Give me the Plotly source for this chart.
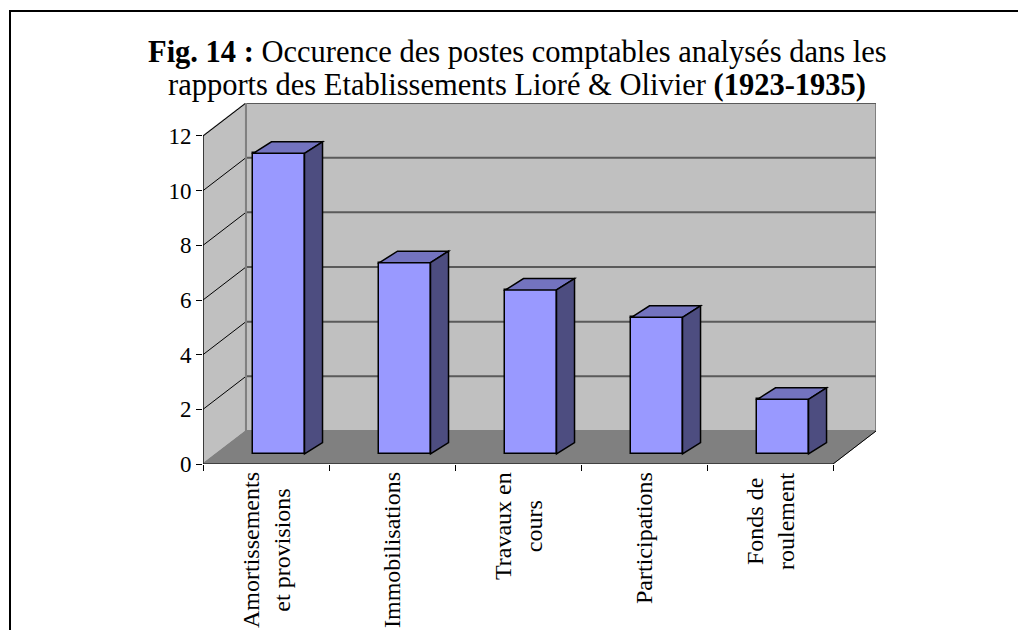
import plotly.graph_objects as go

# ---------------- data ----------------
categories = ["Amortissements<br>et provisions", "Immobilisations", "Travaux en<br>cours",
              "Participations", "Fonds de<br>roulement"]
values = [11, 7, 6, 5, 2]
y_ticks = [0, 2, 4, 6, 8, 10, 12]
title_lines = ["<b>Fig. 14 :</b> Occurence des postes comptables analysés dans les",
               "rapports des Etablissements Lioré &amp; Olivier <b>(1923-1935)</b>"]

# ---------------- geometry (pixels / axis units) ----------------
W, H = 1018, 630
L, R, T, B = 203, 876, 103, 464          # plot area in pixels
n = len(categories)
YMAX = max(y_ticks)
WDX = 0.341    # wall depth in x units
WDY = 1.207    # wall depth in y units
IDX = 0.103    # bar inset (x units)
IDY = 0.366    # bar inset (y units)
BW = 0.405     # bar width (x units)
BDX = 0.143    # bar depth x
BDY = 0.42     # bar depth y

x0r, x1r = -0.5, n - 0.5 + WDX
y0r, y1r = 0, YMAX + WDY

FONT = "Liberation Serif, Times New Roman, serif"
WALL = "#C0C0C0"
FLOOR = "#808080"
EDGE = "#808080"
GRID = "#5A5A5A"
BAR_FRONT = "#9999FF"
BAR_TOP = "#7373BF"
BAR_SIDE = "#4D4D80"

def px2paper_x(px):
    return (px - L) / (R - L)

def px2paper_y(py):
    return (B - py) / (B - T)

def poly(pts):
    return "M " + " L ".join(f"{x},{y}" for x, y in pts) + " Z"

shapes = []
xl = -0.5
xr = n - 0.5
# side wall (left)
shapes.append(dict(type="path", xref="x", yref="y", layer="below",
                   path=poly([(xl, 0), (xl, YMAX), (xl + WDX, YMAX + WDY), (xl + WDX, WDY)]),
                   fillcolor=WALL, line=dict(color=EDGE, width=1.5)))
# back wall
shapes.append(dict(type="path", xref="x", yref="y", layer="below",
                   path=poly([(xl + WDX, WDY), (xl + WDX, YMAX + WDY), (xr + WDX, YMAX + WDY), (xr + WDX, WDY)]),
                   fillcolor=WALL, line=dict(color=EDGE, width=2)))
# floor
shapes.append(dict(type="path", xref="x", yref="y", layer="below",
                   path=poly([(xl, 0), (xr, 0), (xr + WDX, WDY), (xl + WDX, WDY)]),
                   fillcolor=FLOOR, line=dict(color=FLOOR, width=1)))
# gridlines on back wall + side wall
for v in y_ticks[1:]:
    shapes.append(dict(type="line", xref="x", yref="y", layer="below",
                       x0=xl + WDX, y0=v + WDY, x1=xr + WDX, y1=v + WDY,
                       line=dict(color=GRID, width=2)))
    shapes.append(dict(type="line", xref="x", yref="y", layer="below",
                       x0=xl, y0=v, x1=xl + WDX, y1=v + WDY,
                       line=dict(color="black", width=1)))
# back wall left edge
shapes.append(dict(type="line", xref="x", yref="y", layer="below",
                   x0=xl + WDX, y0=WDY, x1=xl + WDX, y1=YMAX + WDY,
                   line=dict(color=EDGE, width=2)))
# floor right diagonal edge
shapes.append(dict(type="line", xref="x", yref="y", layer="above",
                   x0=xr, y0=0, x1=xr + WDX, y1=WDY, line=dict(color="black", width=1)))
# front axes lines
shapes.append(dict(type="line", xref="x", yref="y", layer="above",
                   x0=xl, y0=0, x1=xr, y1=0, line=dict(color="black", width=1.2)))
shapes.append(dict(type="line", xref="x", yref="y", layer="above",
                   x0=xl, y0=0, x1=xl, y1=YMAX, line=dict(color="black", width=1.2)))

# bar top and side faces
for i, v in enumerate(values):
    bx0 = i + IDX - BW / 2
    bx1 = i + IDX + BW / 2
    top = IDY + v
    shapes.append(dict(type="path", xref="x", yref="y", layer="above",
                       path=poly([(bx0, top), (bx0 + BDX, top + BDY), (bx1 + BDX, top + BDY), (bx1, top)]),
                       fillcolor=BAR_TOP, line=dict(color="black", width=1.5)))
    shapes.append(dict(type="path", xref="x", yref="y", layer="above",
                       path=poly([(bx1, IDY), (bx1, top), (bx1 + BDX, top + BDY), (bx1 + BDX, IDY + BDY)]),
                       fillcolor=BAR_SIDE, line=dict(color="black", width=1.5)))

# outer frame (left and top border)
shapes.append(dict(type="line", xref="paper", yref="paper",
                   x0=px2paper_x(10), y0=px2paper_y(11), x1=px2paper_x(10), y1=px2paper_y(640),
                   line=dict(color="black", width=2)))
shapes.append(dict(type="line", xref="paper", yref="paper",
                   x0=px2paper_x(9), y0=px2paper_y(11), x1=px2paper_x(1030), y1=px2paper_y(11),
                   line=dict(color="black", width=2)))

fig = go.Figure()
fig.add_trace(go.Bar(
    x=[i + IDX for i in range(n)], y=values, base=IDY, width=BW,
    marker=dict(color=BAR_FRONT, line=dict(color="black", width=1.5)),
    hoverinfo="skip", showlegend=False))

annotations = []
for i, c in enumerate(categories):
    annotations.append(dict(x=i, y=0, xref="x", yref="y", text=c, showarrow=False,
                            textangle=-90, xanchor="center", yanchor="top", yshift=-6,
                            align="center", font=dict(family=FONT, size=24, color="black")))
# title, two lines placed individually
for line_text, py in zip(title_lines, [52, 85]):
    annotations.append(dict(x=px2paper_x(517), y=px2paper_y(py), xref="paper", yref="paper",
                            text=line_text, showarrow=False, xanchor="center", yanchor="middle",
                            font=dict(family=FONT, size=30.5, color="black")))

fig.update_layout(
    width=W, height=H,
    margin=dict(l=L, r=W - R, t=T, b=H - B, pad=0),
    paper_bgcolor="white", plot_bgcolor="white",
    xaxis=dict(range=[x0r, x1r], showgrid=False, zeroline=False, showline=False,
               tickvals=[k - 0.5 for k in range(n + 1)], ticks="outside", ticklen=6,
               tickcolor="black", tickwidth=1, showticklabels=False, fixedrange=True),
    yaxis=dict(range=[y0r, y1r], showgrid=False, zeroline=False, showline=False,
               tickvals=y_ticks, ticks="outside", ticklen=6, tickcolor="black", tickwidth=1,
               ticklabelstandoff=0,
               tickfont=dict(family=FONT, size=23, color="black"), fixedrange=True),
    shapes=shapes, annotations=annotations, bargap=0,
)

fig.write_html("out.html", config={"displayModeBar": False},
               post_script="document.body.style.margin='0';")
